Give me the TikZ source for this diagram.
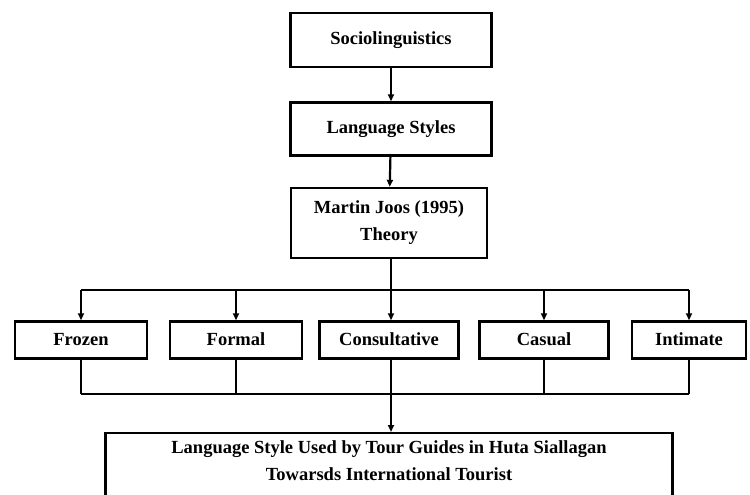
\documentclass[tikz,border=0pt]{standalone}
\usepackage{fontspec}
\setmainfont{Liberation Serif}
\usetikzlibrary{positioning,arrows.meta}

\begin{document}
\begin{tikzpicture}[
		x=1pt, y=-1pt,
		>={Triangle[length=7pt,width=6pt]},
		every node/.style = {font=\fontsize{18.5}{27}\selectfont\bfseries},
		main/.style = {draw, line width=2.4pt, align=center, inner sep=0pt},
		level/.style = {draw, line width=2.4pt, minimum height=37pt, inner sep=0pt,
			text height=12pt, text depth=2pt},
		link/.style = {line width=2.2pt}
	]
	\useasboundingbox (0,0) rectangle (750,495);
	% Top column.
	\node[main, minimum width=201pt, minimum height=54pt] (socio) at (391,40) {Sociolinguistics};
	\node[main, minimum width=201pt, minimum height=53pt] (styles) at (391,129) {Language Styles};
	\node[main, minimum width=196pt, minimum height=70pt] (joos) at (389,223) {Martin Joos (1995)\\Theory};
	% Level of styles.
	\node[level, minimum width=132pt] (frozen) at (81,340) {Frozen};
	\node[level, minimum width=132pt] (formal) at (236,340) {Formal};
	\node[level, minimum width=139pt] (consult) at (389,340) {Consultative};
	\node[level, minimum width=129pt] (casual) at (544,340) {Casual};
	\node[level, minimum width=114pt] (intimate) at (689,340) {Intimate};
	% Result.
	\node[main, minimum width=567pt, minimum height=100pt, anchor=north] (result) at (389,432) {};
	\node[align=center, below=5pt of result.north] (resulttext)
		{Language Style Used by Tour Guides in Huta Siallagan\\Towarsds International Tourist};
	
	\coordinate (split) at (391,290);
	\coordinate (join) at (391,394);
	\draw[link, ->] (socio) to (styles);
	\draw[link, ->] (styles) to (joos);
	\draw[link] (joos.south -| split) to (split);
	\draw[link] (split -| frozen) to (split -| intimate);
	\draw[link, ->] (split -| frozen) to (frozen);
	\draw[link, ->] (split -| formal) to (formal);
	\draw[link, ->] (split) to (consult.north -| split);
	\draw[link, ->] (split -| casual) to (casual);
	\draw[link, ->] (split -| intimate) to (intimate);
	\draw[link] (frozen) to (join -| frozen);
	\draw[link] (formal) to (join -| formal);
	\draw[link] (consult.south -| join) to (join);
	\draw[link] (casual) to (join -| casual);
	\draw[link] (intimate) to (join -| intimate);
	\draw[link] (join -| frozen) to (join -| intimate);
	\draw[link, ->] (join) to (result.north -| join);
\end{tikzpicture}
\end{document}
